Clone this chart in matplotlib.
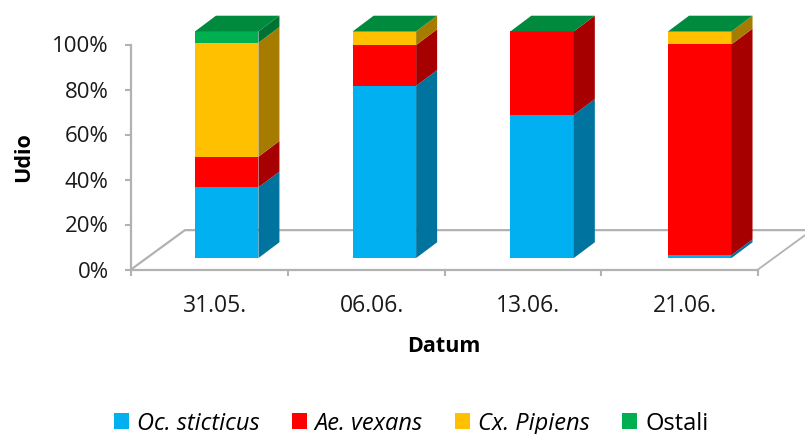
import matplotlib
matplotlib.use("Agg")
import numpy as np
import matplotlib.pyplot as plt
from matplotlib.patches import Polygon, Patch

plt.rcParams['font.family'] = ['Open Sans', 'DejaVu Sans']

dates = ["31.05.", "06.06.", "13.06.", "21.06."]
species = ["Oc. sticticus", "Ae. vexans", "Cx. Pipiens", "Ostali"]
oc_sticticus = [31.2, 76.0, 63.2, 1.3]
ae_vexans = [13.5, 18.0, 36.8, 93.0]
cx_pipiens = [50.3, 6.0, 0.0, 5.7]
ostali = [5.0, 0.0, 0.0, 0.0]
series = [oc_sticticus, ae_vexans, cx_pipiens, ostali]

colors = ["#00B0F0", "#FF0000", "#FFC000", "#00B050"]
side_colors = ["#00739E", "#A60000", "#A67C00", "#007333"]
top_color = "#008A3E"
line_color = "#B2B2B2"

# offsets of the fake 3d box, x in categories, y in percent
bar_left = 0.408
bar_step = 1.006
bar_width = 0.405
bar_base = 5.1
bar_scale = 1.007
depth_x = 0.134
depth_y = 7.0
floor_x = 0.344
floor_y = 17.5

W, H = 805, 434
fig = plt.figure(figsize=(W / 100, H / 100), dpi=100)
ax = fig.add_axes([131 / W, (H - 269.5) / H, 627 / W, 225 / H])
ax.set_xlim(0, 4)
ax.set_ylim(0, 100)

# floor
ax.plot([0, floor_x, 4 + floor_x], [0, floor_y, floor_y], color=line_color,
        lw=1.6, clip_on=False, zorder=1, solid_joinstyle="miter")
ax.plot([4, 4 + floor_x], [0, floor_y], color=line_color, lw=1.3,
        clip_on=False, zorder=1)

# stacked bars, front + side + top
x = np.arange(len(dates)) * bar_step + bar_left
bottom = np.zeros(len(dates))
for vals, c, sc in zip(series, colors, side_colors):
    h = np.array(vals) * bar_scale
    ax.bar(x, h, bar_width, bottom=bar_base + bottom, align="edge", color=c,
           clip_on=False, zorder=3)
    for xi, b, hi in zip(x, bar_base + bottom, h):
        if hi <= 0:
            continue
        xr = xi + bar_width
        ax.add_patch(Polygon([[xr, b], [xr + depth_x, b + depth_y],
                              [xr + depth_x, b + hi + depth_y], [xr, b + hi]],
                             closed=True, fc=sc, ec="none", clip_on=False, zorder=3))
    bottom = bottom + h

for xi, t in zip(x, bar_base + bottom):
    ax.add_patch(Polygon([[xi, t], [xi + depth_x, t + depth_y],
                          [xi + bar_width + depth_x, t + depth_y], [xi + bar_width, t]],
                         closed=True, fc=top_color, ec="none", clip_on=False, zorder=3))

for s in ["top", "right"]:
    ax.spines[s].set_visible(False)
for s in ["left", "bottom"]:
    ax.spines[s].set_color(line_color)
    ax.spines[s].set_linewidth(1.6)

ax.set_yticks(np.arange(0, 101, 20))
ax.set_yticklabels([f"{v}%" for v in range(0, 101, 20)], fontsize=16, color="#1a1a1a")
ax.set_xticks(np.arange(0, 5))
ax.set_xticklabels([])
ax.set_xticks(np.arange(len(dates)) + 0.535, minor=True)
ax.set_xticklabels(dates, minor=True, fontsize=16.5, color="#1a1a1a")
ax.tick_params(axis="x", which="minor", length=0, pad=17.5)
ax.tick_params(axis="both", which="major", color=line_color, width=1.5, length=4.5)
ax.tick_params(axis="y", pad=11.5)

fig.text(24 / W, 1 - 157 / H, "Udio", rotation=90, ha="center", va="center",
         fontsize=15.5, fontweight="bold")
fig.text(444 / W, 1 - 347 / H, "Datum", ha="center", va="center",
         fontsize=15.5, fontweight="bold")

handles = [Patch(fc=c, ec="none") for c in colors]
leg = fig.legend(handles, species, ncol=4, loc="center", bbox_to_anchor=(411 / W, 1 - 423.5 / H),
                 frameon=False, fontsize=17, handlelength=0.64, handleheight=0.64,
                 handletextpad=0.34, columnspacing=1.36, borderpad=0)
for t in leg.get_texts()[:3]:
    t.set_fontstyle("italic")

plt.savefig("out.png", dpi=100)
